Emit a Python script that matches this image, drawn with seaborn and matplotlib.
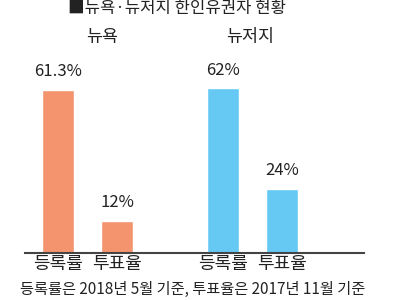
import matplotlib
matplotlib.use("Agg")
import matplotlib.pyplot as plt
import seaborn as sns
import pandas as pd

# Data
groups = ["뉴욕", "뉴욕", "뉴저지", "뉴저지"]
metrics = ["등록률", "투표율", "등록률", "투표율"]
values = [61.3, 12, 62, 24]
value_labels = ["61.3%", "12%", "62%", "24%"]
title = "■뉴욕·뉴저지 한인유권자 현황"
footnote = "등록률은 2018년 5월 기준, 투표율은 2017년 11월 기준"
colors = {"뉴욕": "#F4946F", "뉴저지": "#66C9F4"}

sns.set_theme(style="white")
plt.rcParams["font.family"] = ["Noto Sans CJK KR", "DejaVu Sans"]

# layout positions (group gap wider than in-group spacing)
group_gap = 2.816
group_order = ["뉴욕", "뉴저지"]
pos = [group_order.index(g) * group_gap + (0 if m == "등록률" else 1)
       for g, m in zip(groups, metrics)]

df = pd.DataFrame({"pos": pos, "group": groups, "metric": metrics, "value": values})

fig = plt.figure(figsize=(4, 3), dpi=100)
ax = fig.add_axes([24.7 / 400, (300 - 252.7) / 300, (364 - 24.7) / 400, (252.7 - 60) / 300])

sns.barplot(data=df, x="pos", y="value", hue="group", palette=colors,
            native_scale=True, width=0.545, dodge=False, legend=False,
            saturation=1, ax=ax)

ax.set_xlim(-0.575, 5.215)
ax.set_ylim(0, 72.7)

for p, v, lab in zip(pos, values, value_labels):
    ax.annotate(lab, (p, v), xytext=(0, 7), textcoords="offset points",
                ha="center", va="bottom", fontsize=12, color="#222222")

ax.set_xticks(pos)
ax.set_xticklabels(metrics, fontsize=13, color="#222222")
ax.tick_params(axis="x", length=0, pad=2)
ax.set_yticks([])
ax.set_xlabel("")
ax.set_ylabel("")
for s in ["left", "right", "top"]:
    ax.spines[s].set_visible(False)
ax.spines["bottom"].set_color("#444444")
ax.spines["bottom"].set_linewidth(1.5)

# group headers
for g, xc in zip(group_order, [102.5, 250]):
    fig.text(xc / 400, 1 - 37 / 300, g, ha="center", va="center",
             fontsize=12.5, color="#222222")

fig.text(177 / 400, 1 - 9 / 300, title, ha="center", va="center",
         fontsize=12, color="#222222")
fig.text(193 / 400, 1 - 289 / 300, footnote, ha="center", va="center",
         fontsize=11, color="#222222")

fig.savefig("out.png", dpi=100)
